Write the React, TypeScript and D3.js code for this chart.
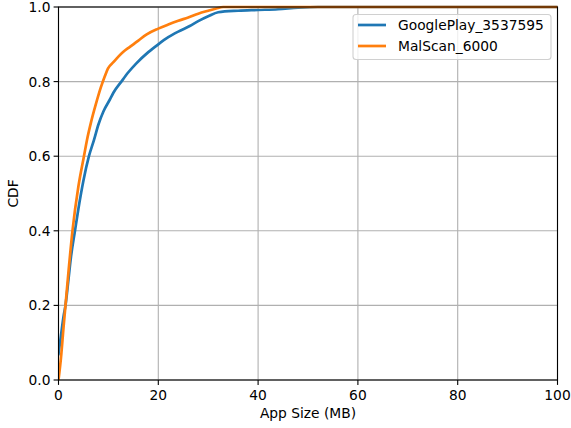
import React from "react";
import * as d3 from "d3";

const gpX = [0, 0.5, 1, 1.4, 2, 2.5, 3.3, 4, 5, 6.1, 7.1, 8, 9, 10.3, 11, 12.6, 14, 15.6, 18, 20, 22, 24, 26.3, 28, 30, 32, 36, 40, 44, 48, 52, 100];
const gpY = [0.07, 0.12, 0.17, 0.2, 0.27, 0.33, 0.4, 0.46, 0.535, 0.6, 0.643, 0.685, 0.72, 0.752, 0.77, 0.8, 0.825, 0.849, 0.879, 0.9, 0.919, 0.934, 0.949, 0.962, 0.975, 0.986, 0.99, 0.992, 0.994, 0.998, 1.0, 1.0];

const msX = [0, 0.5, 1, 1.4, 2, 2.8, 4, 5.1, 5.7, 6.5, 7.5, 8.5, 9.3, 9.9, 11, 12, 13, 14.3, 15, 16, 17.6, 20, 22, 24, 26, 28, 30, 31.6, 33, 100];
const msY = [0.0, 0.06, 0.14, 0.2, 0.29, 0.4, 0.52, 0.6, 0.643, 0.69, 0.74, 0.785, 0.815, 0.835, 0.852, 0.867, 0.88, 0.893, 0.9, 0.91, 0.926, 0.942, 0.953, 0.963, 0.972, 0.982, 0.99, 0.996, 1.0, 1.0];

const xTicks = [0, 20, 40, 60, 80, 100];
const yTicks = [0, 0.2, 0.4, 0.6, 0.8, 1.0];
const seriesNames = ["GooglePlay_3537595", "MalScan_6000"];
const colors = ["#1f77b4", "#ff7f0e"];

export default function App() {
  const W = 571, H = 428;
  const left = 58.5, right = 557.5, top = 7, bottom = 380;
  const x = d3.scaleLinear().domain([0, 100]).range([left, right]);
  const y = d3.scaleLinear().domain([0, 1]).range([bottom, top]);
  const line = d3.line<[number, number]>().x(d => x(d[0])).y(d => y(d[1])).curve(d3.curveMonotoneX);
  const series = [
    gpX.map((v, i) => [v, gpY[i]] as [number, number]),
    msX.map((v, i) => [v, msY[i]] as [number, number]),
  ];
  const font = "DejaVu Sans, sans-serif";
  const fs = 13.8;
  return (
    <svg width={W} height={H} style={{ position: "absolute", left: 0, top: 0 }} fontFamily={font}>
      <rect width={W} height={H} fill="#fff" />
      <defs>
        <clipPath id="clip">
          <rect x={left} y={top - 2} width={right - left} height={bottom - top + 2} />
        </clipPath>
      </defs>
      {xTicks.map(t => (
        <line key={"gx" + t} x1={x(t)} x2={x(t)} y1={top} y2={bottom} stroke="#b0b0b0" strokeWidth={1.1} />
      ))}
      {yTicks.map(t => (
        <line key={"gy" + t} x1={left} x2={right} y1={y(t)} y2={y(t)} stroke="#b0b0b0" strokeWidth={1.1} />
      ))}
      <g clipPath="url(#clip)">
        {series.map((s, i) => (
          <path key={i} d={line(s) || ""} fill="none" stroke={colors[i]} strokeWidth={2.7} strokeLinejoin="round" strokeLinecap="square" />
        ))}
      </g>
      <rect x={left} y={top} width={right - left} height={bottom - top} fill="none" stroke="#000" strokeWidth={1.1} />
      {xTicks.map(t => (
        <g key={"tx" + t}>
          <line x1={x(t)} x2={x(t)} y1={bottom} y2={bottom + 4.9} stroke="#000" strokeWidth={1.1} />
          <text x={x(t)} y={bottom + 19.5} textAnchor="middle" fontSize={fs} fill="#000">{t}</text>
        </g>
      ))}
      {yTicks.map(t => (
        <g key={"ty" + t}>
          <line x1={left - 4.9} x2={left} y1={y(t)} y2={y(t)} stroke="#000" strokeWidth={1.1} />
          <text x={left - 8} y={y(t)} dy="0.36em" textAnchor="end" fontSize={fs} fill="#000">{t.toFixed(1)}</text>
        </g>
      ))}
      <text x={(left + right) / 2} y={418} textAnchor="middle" fontSize={fs} fill="#000">App Size (MB)</text>
      <text transform={`translate(18,${(top + bottom) / 2}) rotate(-90)`} textAnchor="middle" fontSize={fs} fill="#000">CDF</text>
      <g>
        <rect x={353} y={14.5} width={198} height={45} rx={3} fill="#fff" fillOpacity={0.8} stroke="#d0d0d0" strokeWidth={1.1} />
        {seriesNames.map((n, i) => (
          <g key={n}>
            <line x1={358} x2={386} y1={25 + i * 21} y2={25 + i * 21} stroke={colors[i]} strokeWidth={2.7} />
            <text x={398} y={25 + i * 21} dy="0.36em" fontSize={fs} fill="#000">{n}</text>
          </g>
        ))}
      </g>
    </svg>
  );
}
